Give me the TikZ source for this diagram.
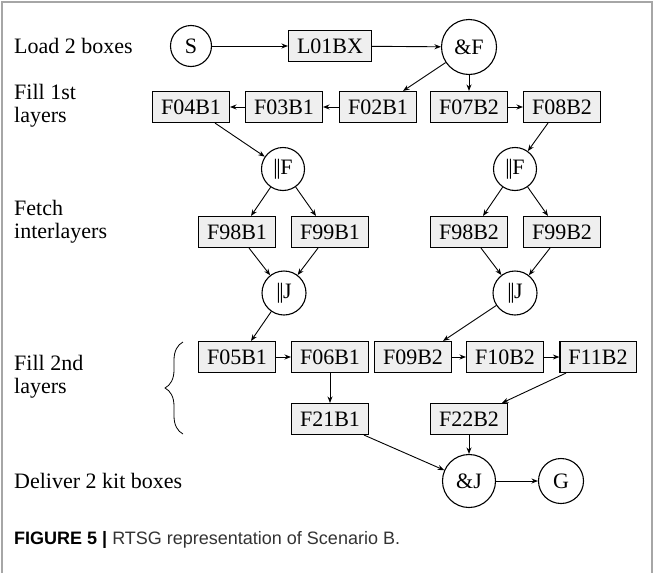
\documentclass[tikz,border=0pt]{standalone}
\usepackage{fontspec}
\setmainfont{Liberation Serif}
\newfontfamily\capfont{Liberation Sans}
\usetikzlibrary{arrows.meta,decorations.pathreplacing}
\definecolor{boxfill}{HTML}{EFEFEF}
\definecolor{framegray}{HTML}{A6A6A6}
\definecolor{captext}{HTML}{333333}
\tikzset{
  task/.style={draw=black, line width=1.1pt, fill=boxfill, inner xsep=8.5pt, inner ysep=0pt,
    minimum height=31pt, font=\fontsize{22}{24}\selectfont},
  ev/.style={draw=black, line width=1.1pt, circle, inner sep=0pt, font=\fontsize{22}{24}\selectfont},
  lbl/.style={anchor=west, align=left, inner sep=0pt, font=\fontsize{22}{23}\selectfont},
  arr/.style={line width=0.9pt, -{Stealth[length=6.5pt,width=5pt]}},
}
\newcommand{\parbar}{\textbar\kern-1.4pt\textbar\kern-0.5pt}
\begin{document}
\begin{tikzpicture}[x=1pt,y=-1pt]
\useasboundingbox (0,0) rectangle (653,573);
\draw[framegray, line width=2pt] (1.5,573) -- (1.5,1.5) -- (651.5,1.5) -- (651.5,573);

% labels
\node[lbl] (l1) at (14,46) {Load 2 boxes};
\node[lbl] (l2) at (14,106) {Fill 1st\\layers};
\node[lbl] (l3) at (14,222) {Fetch\\interlayers};
\node[lbl] (l4) at (14,377) {Fill 2nd\\layers};
\node[lbl] (l5) at (14,481) {Deliver 2 kit boxes};

% row 1
\node[ev, minimum size=41pt] (S) at (191,46) {S};
\node[task] (L01) at (330,46) {L01BX};
\node[ev, minimum size=55pt] (AF) at (469,47) {\&F};
% row 2
\node[task] (F04) at (191,107) {F04B1};
\node[task] (F03) at (284,107) {F03B1};
\node[task] (F02) at (378,107) {F02B1};
\node[task] (F07) at (469,107) {F07B2};
\node[task] (F08) at (562,107) {F08B2};
% forks
\node[ev, minimum size=43pt] (PF1) at (283,169) {\parbar F};
\node[ev, minimum size=43pt] (PF2) at (515,169) {\parbar F};
% row 3
\node[task] (F98a) at (237,232) {F98B1};
\node[task] (F99a) at (330,232) {F99B1};
\node[task] (F98b) at (469,232) {F98B2};
\node[task] (F99b) at (562,232) {F99B2};
% joins
\node[ev, minimum size=44pt] (PJ1) at (284,293) {\parbar J};
\node[ev, minimum size=44pt] (PJ2) at (515,293) {\parbar J};
% row 4
\node[task] (F05) at (237,357) {F05B1};
\node[task] (F06) at (330,357) {F06B1};
\node[task] (F09) at (413,357) {F09B2};
\node[task] (F10) at (505,357) {F10B2};
\node[task] (F11) at (598,357) {F11B2};
% row 5
\node[task] (F21) at (330,419) {F21B1};
\node[task] (F22) at (469,419) {F22B2};
% end
\node[ev, minimum size=53pt] (AJ) at (469,481) {\&J};
\node[ev, minimum size=45pt] (G) at (561,481) {G};

% brace
\draw[line width=0.8pt, decorate, decoration={brace, amplitude=18pt}] (183,434) -- (183,342);

% connectors
\draw[arr] (S) -- (L01);
\draw[arr] (L01) -- (AF);
\draw[arr] (AF) -- ([xshift=25pt]F02.north);
\draw[arr] (AF) -- (F07);
\draw[arr] (F02) -- (F03);
\draw[arr] (F03) -- (F04);
\draw[arr] (F07) -- (F08);
\draw[arr] ([xshift=24pt]F04.south) -- (PF1);
\draw[arr] ([xshift=-14pt]F08.south) -- (PF2);
\draw[arr] (PF1) -- ([xshift=14pt]F98a.north);
\draw[arr] (PF1) -- ([xshift=-14pt]F99a.north);
\draw[arr] (PF2) -- ([xshift=14pt]F98b.north);
\draw[arr] (PF2) -- ([xshift=-14pt]F99b.north);
\draw[arr] ([xshift=12pt]F98a.south) -- (PJ1);
\draw[arr] ([xshift=-12pt]F99a.south) -- (PJ1);
\draw[arr] ([xshift=12pt]F98b.south) -- (PJ2);
\draw[arr] ([xshift=-12pt]F99b.south) -- (PJ2);
\draw[arr] (PJ1) -- ([xshift=14pt]F05.north);
\draw[arr] (PJ2) -- ([xshift=30pt]F09.north);
\draw[arr] (F05) -- (F06);
\draw[arr] (F09) -- (F10);
\draw[arr] (F10) -- (F11);
\draw[arr] (F06) -- (F21);
\draw[arr] ([xshift=-32pt]F11.south) -- ([xshift=33pt]F22.north);
\draw[arr] ([xshift=34pt]F21.south) -- (AJ);
\draw[arr] (F22) -- (AJ);
\draw[arr] (AJ) -- (G);

% caption
\node[anchor=west, inner sep=0pt, text=captext, font=\capfont\fontsize{18}{20}\selectfont] (cap) at (14,540)
  {\textbf{\color{black}FIGURE 5 |} RTSG representation of Scenario B.};
\end{tikzpicture}
\end{document}
